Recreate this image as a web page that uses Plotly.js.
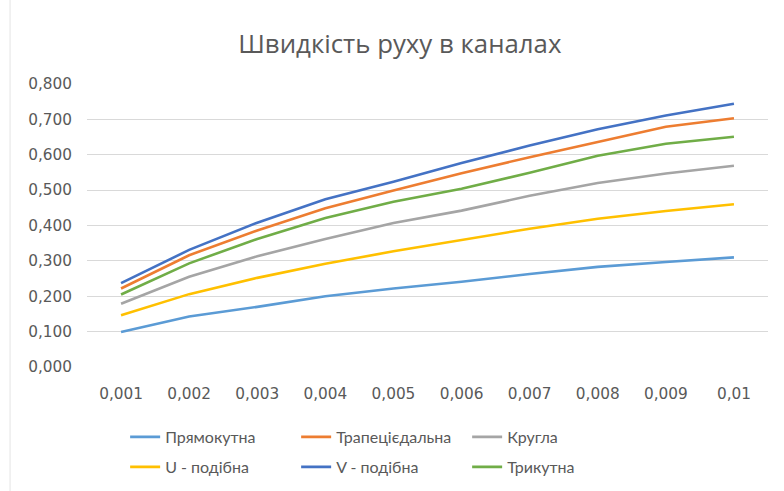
<!DOCTYPE html>
<html>
<head>
<meta charset="utf-8">
<script src="https://cdn.plot.ly/plotly-3.0.1.min.js"></script>
<style>html,body{margin:0;padding:0;background:#fff;}#chart{width:784px;height:491px;}</style>
</head>
<body>
<div id="chart"></div>
<script>
const categories = ["0,001","0,002","0,003","0,004","0,005","0,006","0,007","0,008","0,009","0,01"];
const seriesNames = ["Прямокутна","Трапецієдальна","Кругла","U - подібна","V - подібна","Трикутна"];
const pryamokutna = [0.099,0.143,0.170,0.200,0.222,0.241,0.263,0.283,0.297,0.310];
const trapetsiedalna = [0.222,0.316,0.386,0.449,0.499,0.548,0.593,0.636,0.679,0.703];
const kruhla = [0.179,0.255,0.313,0.362,0.407,0.442,0.484,0.520,0.547,0.569];
const uPodibna = [0.146,0.206,0.252,0.292,0.327,0.358,0.391,0.419,0.441,0.460];
const vPodibna = [0.237,0.331,0.408,0.474,0.524,0.577,0.626,0.672,0.711,0.744];
const trykutna = [0.205,0.293,0.362,0.421,0.467,0.504,0.549,0.597,0.631,0.651];
const yTicks = [0,0.1,0.2,0.3,0.4,0.5,0.6,0.7,0.8];

const values = [pryamokutna, trapetsiedalna, kruhla, uPodibna, vPodibna, trykutna];
const colors = ["#5B9BD5","#ED7D31","#A5A5A5","#FFC000","#4472C4","#70AD47"];
const legends = ["legend","legend","legend","legend2","legend2","legend2"];

const traces = values.map((v,i)=>({
  type:"scatter", mode:"lines", x:categories, y:v, name:seriesNames[i],
  line:{color:colors[i], width:2.6},
  legend:legends[i]
}));

const tickFont = {family:"'DejaVu Sans', sans-serif", size:15.3, color:"#595959"};
const legendFont = {family:"Lato, 'Open Sans', sans-serif", size:16, color:"#595959"};
const layout = {
  width:784, height:491,
  margin:{l:87, r:16, t:84, b:124, autoexpand:false},
  paper_bgcolor:"#fff", plot_bgcolor:"#fff",
  separators:",.",
  title:{text:"Швидкість руху в каналах", x:0.51, xanchor:"center", y:0.91, yanchor:"middle",
    font:{family:"'Open Sans', Lato, sans-serif", size:25.8, color:"#595959"}},
  xaxis:{type:"category", range:[-0.5,9.5], showgrid:false, zeroline:false, showline:false, ticks:"",
    ticklabelstandoff:16, tickfont:tickFont, automargin:false},
  yaxis:{range:[0,0.8], tickvals:yTicks, tickformat:".3f", showgrid:true, gridcolor:"#D9D9D9", gridwidth:1,
    zeroline:false, showline:false, ticks:"", ticklabelstandoff:14, tickfont:tickFont, automargin:false},
  showlegend:true,
  legend:{orientation:"h", x:0.056, xanchor:"left", y:0.110, yanchor:"middle", xref:"paper", yref:"container",
    entrywidth:126, font:legendFont, bgcolor:"rgba(0,0,0,0)", itemclick:false},
  legend2:{orientation:"h", x:0.056, xanchor:"left", y:0.049, yanchor:"middle", xref:"paper", yref:"container",
    entrywidth:126, font:legendFont, bgcolor:"rgba(0,0,0,0)", itemclick:false},
  shapes:[{type:"line", xref:"paper", yref:"paper", x0:-0.113, x1:-0.113, y0:-0.45, y1:1.3,
    line:{color:"#E4E4E4", width:1}}]
};
Plotly.newPlot("chart", traces, layout, {displayModeBar:false, staticPlot:true});
</script>
</body>
</html>
